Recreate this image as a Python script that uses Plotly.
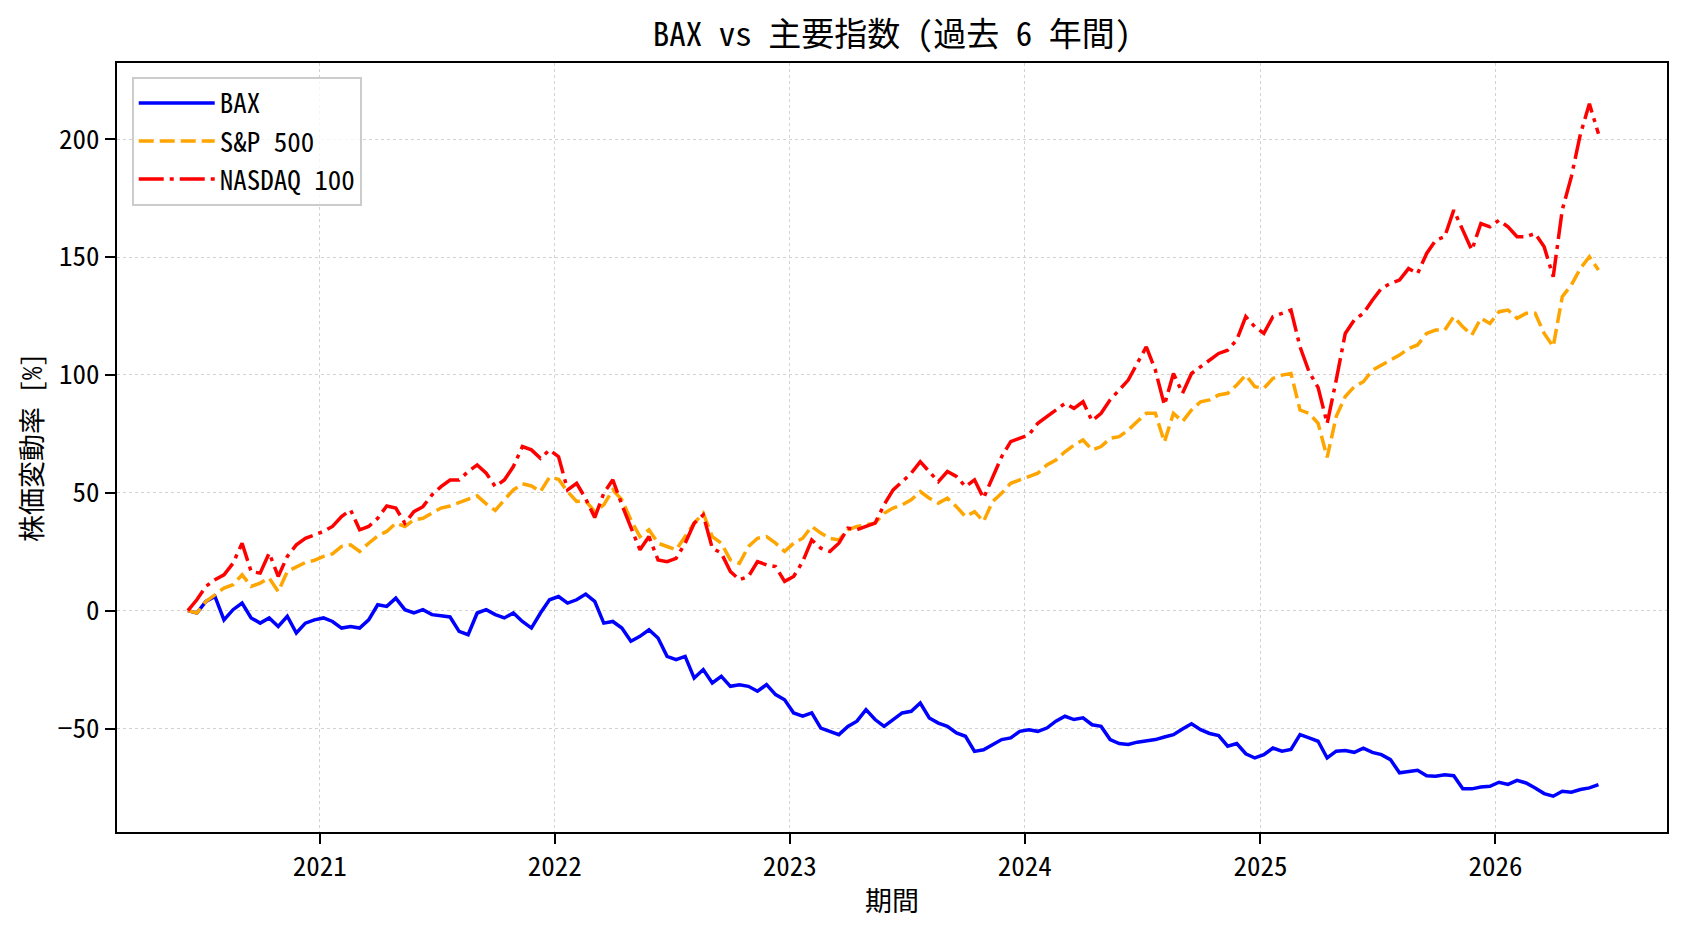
import pandas as pd
import plotly.graph_objects as go

start_date = "2020-06-10"
end_date = "2026-06-10"
n_points = 157

bax = [
    0.0, -1.0, 3.9, 6.0, -3.9, 0.4, 3.2, -3.1, -5.3, -3.1,
    -6.7, -2.4, -9.5, -5.3, -3.9, -3.1, -4.6, -7.4, -6.7, -7.4,
    -3.9, 2.5, 1.8, 5.3, 0.4, -1.0, 0.4, -1.7, -2.2, -2.7,
    -8.8, -10.2, -1.0, 0.4, -1.7, -3.1, -1.0, -4.6, -7.4, -1.0,
    4.6, 6.0, 3.2, 4.6, 7.0, 3.9, -5.3, -4.6, -7.4, -13.0,
    -10.9, -8.1, -11.6, -19.4, -20.8, -19.4, -28.6, -25.0, -30.7, -27.9,
    -32.1, -31.4, -32.1, -34.2, -31.4, -35.6, -37.8, -43.4, -44.8, -43.4,
    -49.8, -51.2, -52.6, -49.1, -46.9, -42.0, -46.2, -49.1, -46.2, -43.4,
    -42.7, -39.2, -45.5, -47.7, -49.1, -51.9, -53.3, -59.7, -59.0, -56.8,
    -54.7, -54.0, -51.2, -50.5, -51.2, -49.8, -46.9, -44.8, -46.2, -45.5,
    -48.4, -49.1, -54.7, -56.4, -56.8, -55.8, -55.4, -54.7, -53.6, -52.6,
    -50.2, -48.0, -50.5, -52.1, -53.0, -57.5, -56.4, -60.7, -62.5, -61.1,
    -58.3, -59.6, -58.9, -52.6, -54.0, -55.4, -62.5, -59.6, -59.3, -60.1,
    -58.3, -60.1, -61.1, -63.2, -68.8, -68.1, -67.7, -70.0, -70.2, -69.6,
    -70.0, -75.6, -75.6, -74.8, -74.5, -72.8, -73.7, -72.0, -73.1, -75.2,
    -77.6, -78.7, -76.6, -77.0, -75.9, -75.2, -73.8,
]

sp500 = [
    0.0, -1.0, 3.9, 6.7, 9.6, 11.0, 15.2, 10.3, 11.7, 13.8,
    8.1, 16.6, 18.7, 20.4, 21.3, 23.0, 24.1, 27.2, 27.9, 25.1,
    28.6, 31.7, 33.6, 37.1, 35.7, 38.5, 39.2, 41.3, 43.5, 44.4,
    45.9, 47.3, 48.7, 45.3, 42.5, 47.0, 51.2, 53.8, 52.9, 50.5,
    56.6, 55.7, 50.5, 46.3, 46.5, 42.0, 44.9, 51.2, 47.0, 38.5,
    31.4, 34.3, 28.6, 27.2, 25.8, 31.4, 37.1, 41.3, 31.4, 28.6,
    21.5, 20.1, 27.2, 30.7, 31.4, 28.6, 25.1, 28.6, 30.7, 35.7,
    32.9, 30.7, 30.0, 34.3, 35.7, 36.4, 37.1, 41.3, 43.5, 44.9,
    47.0, 50.5, 47.7, 45.6, 47.7, 44.1, 39.9, 42.0, 37.8, 46.3,
    49.8, 54.0, 55.5, 56.9, 58.3, 61.8, 63.9, 67.4, 70.2, 72.4,
    68.2, 69.6, 73.1, 73.8, 76.6, 80.2, 83.7, 83.7, 71.5, 83.7,
    80.2, 85.1, 88.6, 89.4, 91.5, 92.2, 95.7, 99.9, 95.0, 94.3,
    98.5, 99.9, 100.6, 85.1, 83.7, 79.4, 65.0, 82.3, 90.8, 95.0,
    97.1, 102.0, 104.2, 106.3, 108.4, 111.2, 112.7, 117.6, 119.0, 119.0,
    124.7, 120.4, 116.9, 124.0, 121.8, 126.8, 127.5, 124.0, 126.1, 126.1,
    117.6, 112.0, 133.2, 138.1, 145.1, 150.1, 144.5,
]

nasdaq100 = [
    0.0, 4.6, 10.3, 13.1, 15.2, 20.1, 28.6, 16.6, 15.9, 24.4,
    14.5, 23.0, 27.9, 30.7, 32.1, 33.6, 35.7, 39.9, 42.7, 34.3,
    35.7, 39.2, 44.4, 43.5, 37.1, 42.0, 44.1, 49.1, 52.6, 55.4,
    55.4, 59.0, 61.8, 58.3, 52.6, 55.4, 61.1, 69.6, 68.2, 64.6,
    68.2, 65.3, 51.2, 54.0, 47.5, 39.5, 49.8, 55.5, 44.9, 35.7,
    25.8, 31.4, 21.5, 20.8, 22.2, 28.6, 37.1, 40.6, 26.5, 24.4,
    16.6, 13.1, 14.5, 20.8, 19.4, 18.7, 12.4, 14.5, 20.8, 30.0,
    26.5, 25.1, 28.6, 35.0, 34.3, 35.7, 37.1, 44.9, 51.2, 54.7,
    58.3, 63.2, 59.0, 54.7, 59.0, 56.9, 52.6, 55.5, 47.7, 56.9,
    65.3, 71.7, 73.1, 74.5, 79.5, 82.3, 85.1, 87.9, 85.8, 88.6,
    80.5, 83.7, 89.4, 93.6, 97.8, 104.9, 111.9, 102.0, 87.2, 100.6,
    92.2, 100.6, 103.5, 106.3, 109.1, 110.5, 114.8, 124.7, 120.4, 117.6,
    124.7, 126.1, 127.5, 111.9, 101.3, 94.6, 79.4, 97.8, 117.6, 123.3,
    126.1, 131.7, 136.7, 138.8, 140.2, 145.1, 143.0, 151.5, 157.1, 158.6,
    169.9, 161.4, 152.9, 164.2, 162.8, 165.6, 162.8, 158.6, 158.6, 160.0,
    154.3, 141.6, 170.0, 184.0, 202.0, 215.0, 202.3,
]

year_ticks = ["2021-01-01", "2022-01-01", "2023-01-01", "2024-01-01", "2025-01-01", "2026-01-01"]
year_labels = ["2021", "2022", "2023", "2024", "2025", "2026"]
y_ticks = [-50, 0, 50, 100, 150, 200]

dates = pd.date_range(start_date, end_date, periods=n_points)

FONT = "Noto Sans Mono CJK JP, Noto Sans CJK JP, sans-serif"

fig = go.Figure()
fig.add_trace(go.Scatter(x=dates, y=bax, mode="lines", name="BAX",
                         line=dict(color="#0000ff", width=3.5)))
fig.add_trace(go.Scatter(x=dates, y=sp500, mode="lines", name="S&P 500",
                         line=dict(color="#ffa500", width=3.5, dash="15px,6px")))
fig.add_trace(go.Scatter(x=dates, y=nasdaq100, mode="lines", name="NASDAQ 100",
                         line=dict(color="#ff0000", width=3.5, dash="25px,6px,4px,6px")))

axis_common = dict(
    showline=True, mirror=True, linecolor="black", linewidth=2,
    ticks="outside", ticklen=10, tickwidth=2, tickcolor="black",
    showgrid=True, gridcolor="#d2d2d2", griddash="dot", gridwidth=1.4,
    zeroline=False, tickfont=dict(family=FONT, size=27, color="black"),
)

fig.update_layout(
    width=1688, height=932,
    margin=dict(l=117, r=21, t=63, b=100),
    paper_bgcolor="white", plot_bgcolor="white",
    font=dict(family=FONT, size=27, color="black"),
    title=dict(text="BAX vs 主要指数 (過去 6 年間)", x=0.5, xref="paper", xanchor="center",
               y=1 - 34.5 / 932, yref="container", yanchor="middle",
               font=dict(family=FONT, size=33, color="black")),
    xaxis=dict(
        range=["2020-02-21", "2026-09-24 12:00"],
        tickvals=year_ticks, ticktext=year_labels,
        title=dict(text="期間", font=dict(family=FONT, size=27, color="black"), standoff=9),
        **axis_common,
    ),
    yaxis=dict(
        range=[-93.9, 232.3],
        tickvals=y_ticks,
        title=dict(text="株価変動率 [%]", font=dict(family=FONT, size=27, color="black"), standoff=7),
        **axis_common,
    ),
    legend=dict(
        x=0.0095, y=0.982, xanchor="left", yanchor="top",
        bgcolor="rgba(255,255,255,0.8)", bordercolor="#cccccc", borderwidth=2,
        font=dict(family=FONT, size=27, color="black"),
        itemwidth=76,
    ),
    showlegend=True,
)

fig.write_html("out.html")
